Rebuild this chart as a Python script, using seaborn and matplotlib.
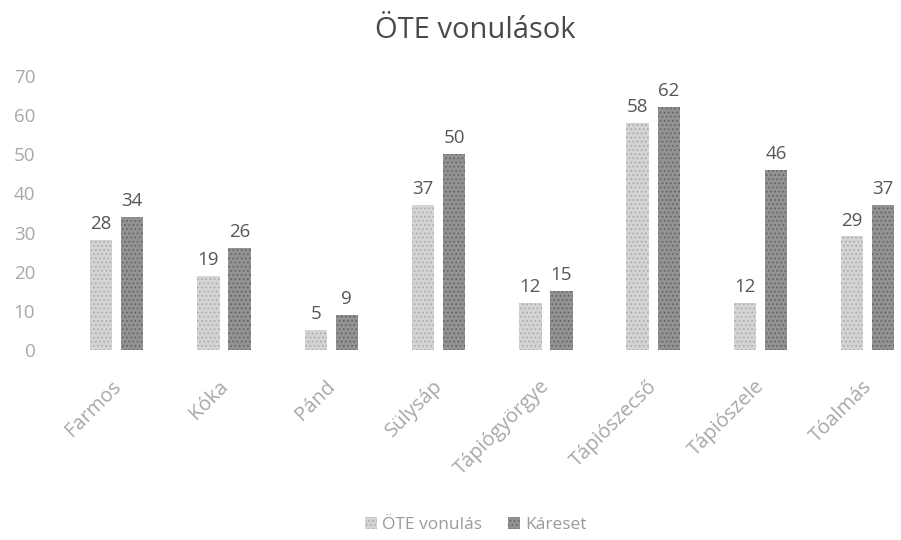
import pandas as pd
import numpy as np
import matplotlib.pyplot as plt
import matplotlib.transforms as mtransforms
import seaborn as sns

# data
places = ['Farmos', 'Kóka', 'Pánd', 'Sülysáp', 'Tápiógyörgye',
          'Tápiószecső', 'Tápiószele', 'Tóalmás']
ote_vonulas = [28, 19, 5, 37, 12, 58, 12, 29]
kareset = [34, 26, 9, 50, 15, 62, 46, 37]
series_names = ['ÖTE vonulás', 'Káreset']
y_ticks = [0, 10, 20, 30, 40, 50, 60, 70]

df = pd.DataFrame({'place': places * 2,
                   'value': ote_vonulas + kareset,
                   'series': [series_names[0]] * len(places) + [series_names[1]] * len(places)})

sns.set_theme(style='white')
plt.rcParams['font.family'] = ['Open Sans', 'DejaVu Sans']
plt.rcParams['hatch.linewidth'] = 0.7

fig = plt.figure(figsize=(9.01, 5.40), dpi=100)
ax = fig.add_axes([0.07, 0.352, 0.93, 0.507])

palette = {series_names[0]: '#d4d4d4', series_names[1]: '#929292'}
sns.barplot(data=df, x='place', y='value', hue='series', palette=palette,
            width=0.58, gap=0.28, ax=ax, legend=False, saturation=1)

# grainy scan-like texture
edge = ['#aaaaaa', '#626262']
for i, cont in enumerate(ax.containers):
    for bar in cont:
        bar.set_hatch('....')
        bar.set_edgecolor(edge[i])
        bar.set_linewidth(0)
    ax.bar_label(cont, padding=5, fontsize=13.5, color='#575757')

ax.set_xlim(-0.5, 7.31)
ax.set_ylim(0, 70)
ax.set_yticks(y_ticks)
ax.set_xlabel('')
ax.set_ylabel('')
sns.despine(ax=ax, left=True, bottom=True)
ax.tick_params(axis='y', labelsize=13.5, labelcolor='#a8a8a8', pad=20, length=0)
ax.tick_params(axis='x', labelsize=14.5, labelcolor='#a8a8a8', length=0, pad=19)
shift = mtransforms.ScaledTranslation(-6 / 100, 0, fig.dpi_scale_trans)
for lab in ax.get_xticklabels():
    lab.set_rotation(45)
    lab.set_ha('right')
    lab.set_rotation_mode('anchor')
    lab.set_transform(lab.get_transform() + shift)

fig.text(0.528, 0.944, 'ÖTE vonulások', ha='center', va='center',
         fontsize=21, color='#4a4a4a')

handles = [plt.Rectangle((0, 0), 1, 1, facecolor=palette[n], hatch='....',
                         edgecolor=e, linewidth=0) for n, e in zip(series_names, edge)]
fig.legend(handles, series_names, loc='center', bbox_to_anchor=(0.528, 0.028),
           ncol=2, frameon=False, fontsize=12.5, labelcolor='#9a9a9a',
           handlelength=0.7, handleheight=0.7, handletextpad=0.3, columnspacing=1.5)

fig.savefig('out.png', dpi=100)
